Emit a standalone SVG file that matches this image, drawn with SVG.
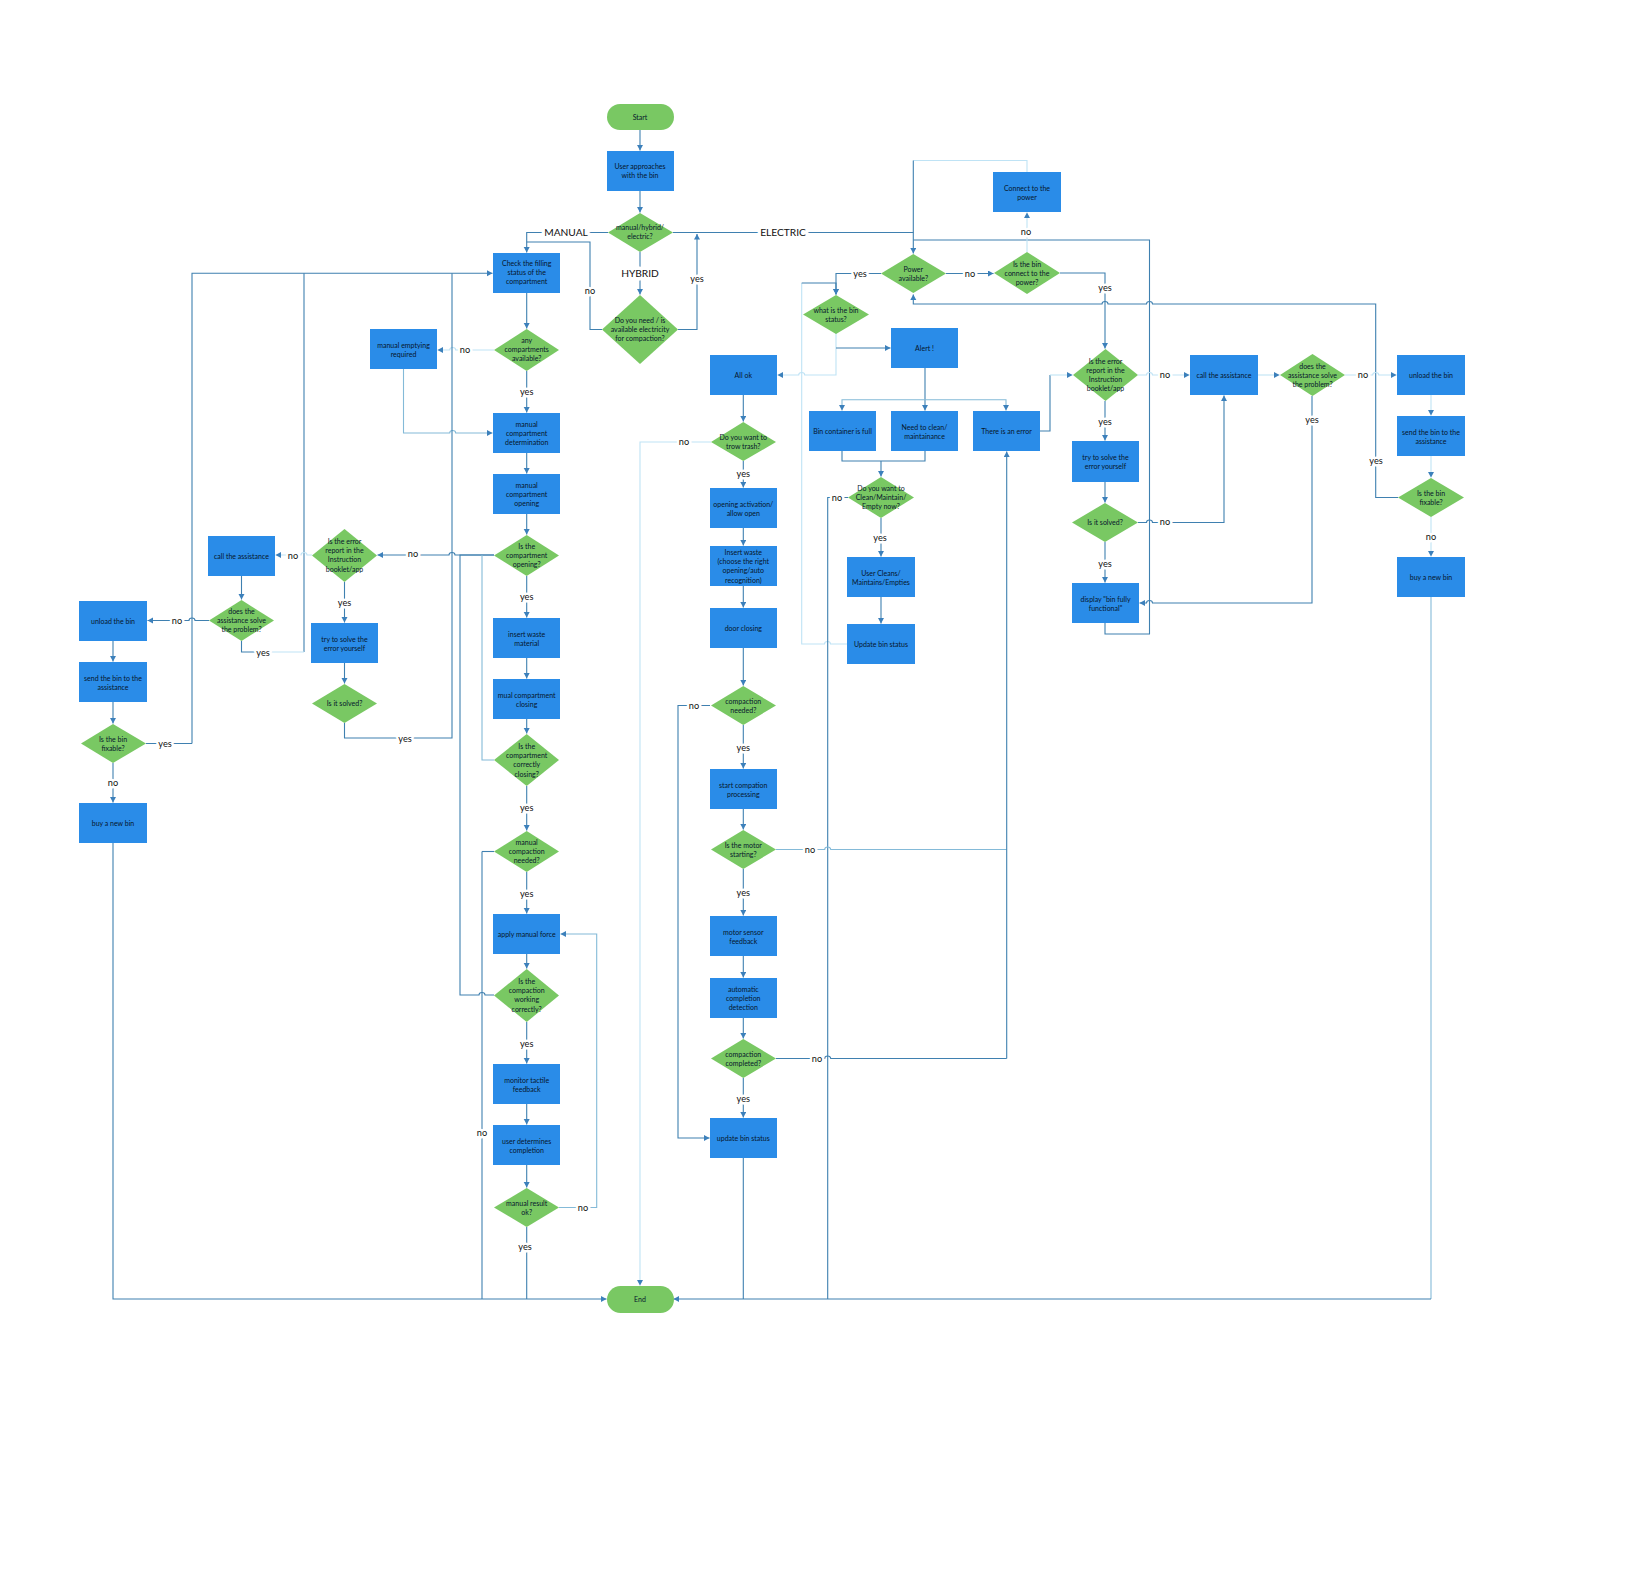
<svg xmlns="http://www.w3.org/2000/svg" width="1645" height="1582" viewBox="0 0 1645 1582">
<style>
.b{fill:#2a8ce8}
.d{fill:#79c863}
.t{font-family:"Lato","Liberation Sans",sans-serif;font-size:7px;fill:#06162c;text-anchor:middle}
.c{fill:none;stroke:#3f80b0;stroke-width:1.1}
.m{fill:none;stroke:#84bad8;stroke-width:1.1}
.l{fill:none;stroke:#bfe3f5;stroke-width:1.1}
.a{marker-end:url(#ah)}
.x{font-family:"Lato","Liberation Sans",sans-serif;font-size:9.2px;fill:#111;text-anchor:middle;paint-order:stroke;stroke:#fff;stroke-width:5px;stroke-linejoin:round}
.y{font-size:10.2px;stroke-width:7px}
</style>
<defs><marker id="ah" markerUnits="userSpaceOnUse" markerWidth="7" markerHeight="7" refX="5.5" refY="3" orient="auto"><path d="M0 0L5.5 3L0 6Z" fill="#3c80bb"/></marker></defs>
<rect width="1645" height="1582" fill="#fff"/>
<g id="connectors">
<path class="c a" d="M640 130V150.500"/>
<path class="c a" d="M640 191V212.500"/>
<path class="c a" d="M608 232.500H526.700V252.500"/>
<path class="c a" d="M640 252V294.500"/>
<path class="c a" d="M678 329.500H697V234"/>
<path class="c" d="M602 329.500H590V242H526.700"/>
<path class="c a" d="M673 232.500H913.300V253.500"/>
<path class="l" d="M1027 172V160.500H913.300"/>
<path class="c" d="M913.300 160.500V232.500"/>
<path class="c" d="M913.300 240H1149.500V634H1105V623"/>
<path class="c a" d="M946 273.500H993.500"/>
<path class="l a" d="M1027 252V212.500"/>
<path class="c a" d="M1060 273H1105V348.500"/>
<path class="c a" d="M1398 497.500H1375.700V304H1152.500a3 2.500 0 0 0 -6 0H1108a3 2.500 0 0 0 -6 0H913.300V294.500"/>
<path class="c a" d="M881 273.500H836V294.500"/>
<path class="l" d="M847 644H830.500a3 2.500 0 0 0 -6 0H801.700V283"/>
<path class="c a" d="M801.700 283H836V294.500"/>
<path class="l a" d="M836 333V375H804.700a3 2.500 0 0 0 -6 0H777.500"/>
<path class="c a" d="M836 348H890.500"/>
<path class="c a" d="M925 368V410.500"/>
<path class="m a" d="M925 399.700H842V410.500"/>
<path class="m a" d="M925 399.700H1006V410.500"/>
<path class="c" d="M842 451V461H925V451"/>
<path class="c a" d="M881 461V476.500"/>
<path class="c a" d="M881 518V556.500"/>
<path class="c a" d="M881 597V623.500"/>
<path class="c" d="M848 497.500H827.700V1299"/>
<path class="c" d="M1040 431H1050V375"/>
<path class="l a" d="M1050 375H1072.500"/>
<path class="c a" d="M1105 401V440.500"/>
<path class="c a" d="M1105 482V502.500"/>
<path class="c a" d="M1105 542V582.500"/>
<path class="l a" d="M1138 375H1146.500a3 2.500 0 0 1 6 0H1189.500"/>
<path class="l a" d="M1258 375H1279.500"/>
<path class="l a" d="M1345 375H1372.700a3 2.500 0 0 1 6 0H1396.500"/>
<path class="c a" d="M1138 522.500H1146.500a3 2.500 0 0 1 6 0H1224V395.500"/>
<path class="c a" d="M1312 396V603H1152.500a3 2.500 0 0 0 -6 0H1139.500"/>
<path class="l a" d="M1431 395V415.500"/>
<path class="l a" d="M1431 456V477.500"/>
<path class="l a" d="M1431 517V556.500"/>
<path class="m" d="M1431 597V1299"/>
<path class="c a" d="M1431 1299H673.500"/>
<path class="c a" d="M113 843V1299H606.500"/>
<path class="c" d="M743.300 1158V1299"/>
<path class="c" d="M526.700 1227V1299"/>
<path class="c" d="M482 851.500V1299"/>
<path class="c" d="M494 851.500H482"/>
<path class="c a" d="M526.700 293V328.500"/>
<path class="c a" d="M526.700 371V412.500"/>
<path class="c a" d="M526.700 453V473.500"/>
<path class="c a" d="M526.700 514V534.500"/>
<path class="c a" d="M526.700 576V617.500"/>
<path class="c a" d="M526.700 658V678.500"/>
<path class="c a" d="M526.700 719V733.500"/>
<path class="c a" d="M526.700 786V830.500"/>
<path class="c a" d="M526.700 872V913.500"/>
<path class="c a" d="M526.700 954V968.500"/>
<path class="c a" d="M526.700 1022V1063.500"/>
<path class="c a" d="M526.700 1104V1124.500"/>
<path class="c a" d="M526.700 1165V1187.500"/>
<path class="l a" d="M494 350H455.700a3 2.500 0 0 0 -6 0H437.500"/>
<path class="m a" d="M403.500 369V433H449.700a3 2.500 0 0 1 6 0H492.500"/>
<path class="c a" d="M494 555H455a3 2.500 0 0 0 -6 0H377.500"/>
<path class="c" d="M494 555H460V995H479a3 2.500 0 0 1 6 0H494"/>
<path class="m" d="M494 760H482V555"/>
<path class="c" d="M344.500 723V738H452V273.300"/>
<path class="c a" d="M192 743.500V273.300H492.500"/>
<path class="c" d="M304 273.300V652"/>
<path class="l" d="M304 652H263"/>
<path class="c" d="M263 652H241.500V641"/>
<path class="c" d="M146 743.500H192"/>
<path class="l a" d="M312 555H307a3 2.500 0 0 0 -6 0H275.500"/>
<path class="c a" d="M344.500 582V622.500"/>
<path class="c a" d="M344.500 663V683.500"/>
<path class="c a" d="M241.500 576V599.500"/>
<path class="c a" d="M209 620.500H195a3 2.500 0 0 0 -6 0H147.500"/>
<path class="c a" d="M113 641V661.500"/>
<path class="c a" d="M113 702V723.500"/>
<path class="c a" d="M113 763V802.500"/>
<path class="m a" d="M559 1207.500H596.700V934H560.500"/>
<path class="c a" d="M743.300 395V421.500"/>
<path class="l a" d="M711 442H640V1285.500"/>
<path class="c a" d="M743.300 461V487.500"/>
<path class="c a" d="M743.300 528V545.500"/>
<path class="c a" d="M743.300 586V607.500"/>
<path class="c a" d="M743.300 648V685.500"/>
<path class="c a" d="M710 705.500H678V1138H709.500"/>
<path class="c a" d="M743.300 725V768.500"/>
<path class="c a" d="M743.300 809V829.500"/>
<path class="c a" d="M743.300 869V915.500"/>
<path class="c a" d="M743.300 956V977.500"/>
<path class="c a" d="M743.300 1018V1038.500"/>
<path class="c a" d="M743.300 1078V1117.500"/>
<path class="m" d="M776 849.500H824.700a3 2.500 0 0 1 6 0H1006.700"/>
<path class="c" d="M776 1058.500H824.700a3 2.500 0 0 1 6 0H1006.700"/>
<path class="c a" d="M1006.700 1058.500V451.500"/>
</g>
<g id="connector-labels">
<text class="x y" x="566" y="235.800">MANUAL</text>
<text class="x y" x="640" y="276.600">HYBRID</text>
<text class="x y" x="783" y="236">ELECTRIC</text>
<text class="x" x="590" y="293.500">no</text>
<text class="x" x="697" y="282">yes</text>
<text class="x" x="860" y="277">yes</text>
<text class="x" x="970" y="276.700">no</text>
<text class="x" x="1026" y="235">no</text>
<text class="x" x="1105" y="291">yes</text>
<text class="x" x="1165" y="378">no</text>
<text class="x" x="1363" y="378">no</text>
<text class="x" x="1105" y="425">yes</text>
<text class="x" x="1165" y="525">no</text>
<text class="x" x="1105" y="567">yes</text>
<text class="x" x="1312" y="423">yes</text>
<text class="x" x="1376" y="464">yes</text>
<text class="x" x="1431" y="540">no</text>
<text class="x" x="837" y="500.500">no</text>
<text class="x" x="880" y="541">yes</text>
<text class="x" x="526.700" y="395">yes</text>
<text class="x" x="465" y="353">no</text>
<text class="x" x="413" y="557">no</text>
<text class="x" x="526.700" y="600">yes</text>
<text class="x" x="526.700" y="811">yes</text>
<text class="x" x="526.700" y="897">yes</text>
<text class="x" x="526.700" y="1047">yes</text>
<text class="x" x="583" y="1211">no</text>
<text class="x" x="525" y="1250">yes</text>
<text class="x" x="482" y="1136">no</text>
<text class="x" x="344.500" y="606">yes</text>
<text class="x" x="405" y="742">yes</text>
<text class="x" x="293" y="559">no</text>
<text class="x" x="177" y="623.500">no</text>
<text class="x" x="263" y="656">yes</text>
<text class="x" x="165" y="747">yes</text>
<text class="x" x="113" y="786">no</text>
<text class="x" x="684" y="445">no</text>
<text class="x" x="743.300" y="477">yes</text>
<text class="x" x="694" y="708.500">no</text>
<text class="x" x="743.300" y="751">yes</text>
<text class="x" x="810" y="852.500">no</text>
<text class="x" x="743.300" y="896">yes</text>
<text class="x" x="817" y="1062">no</text>
<text class="x" x="743.300" y="1102">yes</text>
</g>
<g id="n-start"><rect class="d" x="607" y="104" width="67" height="26" rx="13"/><text class="t" x="640" y="119.500">Start</text></g>
<g id="n-user"><rect class="b" x="607" y="151" width="67" height="40"/><text class="t" x="640" y="169">User approaches<tspan x="640" dy="9.200">with the bin</tspan></text></g>
<g id="n-mode"><polygon class="d" points="640,213 673,232.500 640,252 608,232.500"/><text class="t" x="640" y="229.500">manual/hybrid/<tspan x="640" dy="9.200">electric?</tspan></text></g>
<g id="n-need"><polygon class="d" points="640,295 678,329.500 640,364 602,329.500"/><text class="t" x="640" y="322.500">Do you need / is<tspan x="640" dy="9.200">available electricity</tspan><tspan x="640" dy="9.200">for compaction?</tspan></text></g>
<g id="n-check"><rect class="b" x="493" y="253" width="67" height="40"/><text class="t" x="526.700" y="266">Check the filling<tspan x="526.700" dy="9.200">status of the</tspan><tspan x="526.700" dy="9.200">compartment</tspan></text></g>
<g id="n-any"><polygon class="d" points="526.700,329 559,350 526.700,371 494,350"/><text class="t" x="526.700" y="343">any<tspan x="526.700" dy="9.200">compartments</tspan><tspan x="526.700" dy="9.200">available?</tspan></text></g>
<g id="n-emptying"><rect class="b" x="370" y="329" width="67" height="40"/><text class="t" x="403.500" y="347.500">manual emptying<tspan x="403.500" dy="9.200">required</tspan></text></g>
<g id="n-determ"><rect class="b" x="493" y="413" width="67" height="40"/><text class="t" x="526.700" y="426.500">manual<tspan x="526.700" dy="9.200">compartment</tspan><tspan x="526.700" dy="9.200">determination</tspan></text></g>
<g id="n-opening"><rect class="b" x="493" y="474" width="67" height="40"/><text class="t" x="526.700" y="487.500">manual<tspan x="526.700" dy="9.200">compartment</tspan><tspan x="526.700" dy="9.200">opening</tspan></text></g>
<g id="n-isopen"><polygon class="d" points="526.700,535 559,555.500 526.700,576 494,555.500"/><text class="t" x="526.700" y="549">Is the<tspan x="526.700" dy="9.200">compartment</tspan><tspan x="526.700" dy="9.200">opening?</tspan></text></g>
<g id="n-insert"><rect class="b" x="493" y="618" width="67" height="40"/><text class="t" x="526.700" y="636.500">insert waste<tspan x="526.700" dy="9.200">material</tspan></text></g>
<g id="n-mual"><rect class="b" x="493" y="679" width="67" height="40"/><text class="t" x="526.700" y="697.500">mual compartment<tspan x="526.700" dy="9.200">closing</tspan></text></g>
<g id="n-isclosing"><polygon class="d" points="526.700,734 559,760 526.700,786 494,760"/><text class="t" x="526.700" y="749">Is the<tspan x="526.700" dy="9.200">compartment</tspan><tspan x="526.700" dy="9.200">correctly</tspan><tspan x="526.700" dy="9.200">closing?</tspan></text></g>
<g id="n-mcneeded"><polygon class="d" points="526.700,831 559,851.500 526.700,872 494,851.500"/><text class="t" x="526.700" y="845">manual<tspan x="526.700" dy="9.200">compaction</tspan><tspan x="526.700" dy="9.200">needed?</tspan></text></g>
<g id="n-force"><rect class="b" x="493" y="914" width="67" height="40"/><text class="t" x="526.700" y="936.500">apply manual force</text></g>
<g id="n-working"><polygon class="d" points="526.700,969 559,995.500 526.700,1022 494,995.500"/><text class="t" x="526.700" y="984">Is the<tspan x="526.700" dy="9.200">compaction</tspan><tspan x="526.700" dy="9.200">working</tspan><tspan x="526.700" dy="9.200">correctly?</tspan></text></g>
<g id="n-tactile"><rect class="b" x="493" y="1064" width="67" height="40"/><text class="t" x="526.700" y="1082.500">monitor tactile<tspan x="526.700" dy="9.200">feedback</tspan></text></g>
<g id="n-determines"><rect class="b" x="493" y="1125" width="67" height="40"/><text class="t" x="526.700" y="1143.500">user determines<tspan x="526.700" dy="9.200">completion</tspan></text></g>
<g id="n-result"><polygon class="d" points="526.700,1188 559,1207.500 526.700,1227 494,1207.500"/><text class="t" x="526.700" y="1206">manual result<tspan x="526.700" dy="9.200">ok?</tspan></text></g>
<g id="n-end"><rect class="d" x="607" y="1286" width="67" height="27" rx="13.500"/><text class="t" x="640" y="1302">End</text></g>
<g id="n-allok"><rect class="b" x="710" y="355" width="67" height="40"/><text class="t" x="743.300" y="377.500">All ok</text></g>
<g id="n-trash"><polygon class="d" points="743.300,422 776,442 743.300,461 711,442"/><text class="t" x="743.300" y="439.500">Do you want to<tspan x="743.300" dy="9.200">trow trash?</tspan></text></g>
<g id="n-activation"><rect class="b" x="710" y="488" width="67" height="40"/><text class="t" x="743.300" y="506.500">opening activation/<tspan x="743.300" dy="9.200">allow open</tspan></text></g>
<g id="n-insert2"><rect class="b" x="710" y="546" width="67" height="40"/><text class="t" x="743.300" y="555">Insert waste<tspan x="743.300" dy="9.200">(choose the right</tspan><tspan x="743.300" dy="9.200">opening/auto</tspan><tspan x="743.300" dy="9.200">recognition)</tspan></text></g>
<g id="n-door"><rect class="b" x="710" y="608" width="67" height="40"/><text class="t" x="743.300" y="630.500">door closing</text></g>
<g id="n-needed"><polygon class="d" points="743.300,686 776,705.500 743.300,725 711,705.500"/><text class="t" x="743.300" y="704">compaction<tspan x="743.300" dy="9.200">needed?</tspan></text></g>
<g id="n-startc"><rect class="b" x="710" y="769" width="67" height="40"/><text class="t" x="743.300" y="787.500">start compation<tspan x="743.300" dy="9.200">processing</tspan></text></g>
<g id="n-motor"><polygon class="d" points="743.300,830 776,849.500 743.300,869 711,849.500"/><text class="t" x="743.300" y="848">Is the motor<tspan x="743.300" dy="9.200">starting?</tspan></text></g>
<g id="n-sensor"><rect class="b" x="710" y="916" width="67" height="40"/><text class="t" x="743.300" y="934.500">motor sensor<tspan x="743.300" dy="9.200">feedback</tspan></text></g>
<g id="n-auto"><rect class="b" x="710" y="978" width="67" height="40"/><text class="t" x="743.300" y="991.500">automatic<tspan x="743.300" dy="9.200">completion</tspan><tspan x="743.300" dy="9.200">detection</tspan></text></g>
<g id="n-completed"><polygon class="d" points="743.300,1039 776,1058.500 743.300,1078 711,1058.500"/><text class="t" x="743.300" y="1057">compaction<tspan x="743.300" dy="9.200">completed?</tspan></text></g>
<g id="n-update"><rect class="b" x="710" y="1118" width="67" height="40"/><text class="t" x="743.300" y="1140.500">update bin status</text></g>
<g id="n-status"><polygon class="d" points="836,295 869,314.500 836,334 803,314.500"/><text class="t" x="836" y="312.500">what is the bin<tspan x="836" dy="9.200">status?</tspan></text></g>
<g id="n-power"><polygon class="d" points="913.300,254 946,273.500 913.300,293 881,273.500"/><text class="t" x="913.300" y="271.500">Power<tspan x="913.300" dy="9.200">available?</tspan></text></g>
<g id="n-connected"><polygon class="d" points="1027,252 1060,273 1027,294 994,273"/><text class="t" x="1027" y="266.500">Is the bin<tspan x="1027" dy="9.200">connect to the</tspan><tspan x="1027" dy="9.200">power?</tspan></text></g>
<g id="n-connect"><rect class="b" x="993" y="172" width="68" height="40"/><text class="t" x="1027" y="190.500">Connect to the<tspan x="1027" dy="9.200">power</tspan></text></g>
<g id="n-alert"><rect class="b" x="891" y="328" width="67" height="40"/><text class="t" x="924.500" y="350.500">Alert !</text></g>
<g id="n-full"><rect class="b" x="809" y="411" width="67" height="40"/><text class="t" x="842.500" y="433.500">Bin container is full</text></g>
<g id="n-clean"><rect class="b" x="891" y="411" width="67" height="40"/><text class="t" x="924.500" y="429.500">Need to clean/<tspan x="924.500" dy="9.200">maintainance</tspan></text></g>
<g id="n-error"><rect class="b" x="973" y="411" width="67" height="40"/><text class="t" x="1006.500" y="433.500">There is an error</text></g>
<g id="n-cleannow"><polygon class="d" points="881,477 914,497.500 881,518 848,497.500"/><text class="t" x="881" y="491">Do you want to<tspan x="881" dy="9.200">Clean/Maintain/</tspan><tspan x="881" dy="9.200">Empty now?</tspan></text></g>
<g id="n-cleans"><rect class="b" x="847" y="557" width="68" height="40"/><text class="t" x="881" y="575.500">User Cleans/<tspan x="881" dy="9.200">Maintains/Empties</tspan></text></g>
<g id="n-updatebin"><rect class="b" x="847" y="624" width="68" height="40"/><text class="t" x="881" y="646.500">Update bin status</text></g>
<g id="n-report-r"><polygon class="d" points="1105.500,349 1138,375 1105.500,401 1073,375"/><text class="t" x="1105.500" y="363.500">Is the error<tspan x="1105.500" dy="9.200">report in the</tspan><tspan x="1105.500" dy="9.200">Instruction</tspan><tspan x="1105.500" dy="9.200">booklet/app</tspan></text></g>
<g id="n-try-r"><rect class="b" x="1072" y="441" width="67" height="41"/><text class="t" x="1105.500" y="459.500">try to solve the<tspan x="1105.500" dy="9.200">error yourself</tspan></text></g>
<g id="n-solved-r"><polygon class="d" points="1105,503 1138,522.500 1105,542 1072,522.500"/><text class="t" x="1105" y="525">Is it solved?</text></g>
<g id="n-display"><rect class="b" x="1072" y="583" width="67" height="40"/><text class="t" x="1105.500" y="601.500">display "bin fully<tspan x="1105.500" dy="9.200">functional"</tspan></text></g>
<g id="n-call-r"><rect class="b" x="1190" y="355" width="68" height="40"/><text class="t" x="1224" y="377.500">call the assistance</text></g>
<g id="n-does-r"><polygon class="d" points="1312.500,354 1345,375 1312.500,396 1280,375"/><text class="t" x="1312.500" y="368.500">does the<tspan x="1312.500" dy="9.200">assistance solve</tspan><tspan x="1312.500" dy="9.200">the problem?</tspan></text></g>
<g id="n-unload-r"><rect class="b" x="1397" y="355" width="68" height="40"/><text class="t" x="1431" y="377.500">unload the bin</text></g>
<g id="n-send-r"><rect class="b" x="1397" y="416" width="68" height="40"/><text class="t" x="1431" y="434.500">send the bin to the<tspan x="1431" dy="9.200">assistance</tspan></text></g>
<g id="n-fix-r"><polygon class="d" points="1431,478 1464,497.500 1431,517 1398,497.500"/><text class="t" x="1431" y="495.500">Is the bin<tspan x="1431" dy="9.200">fixable?</tspan></text></g>
<g id="n-buy-r"><rect class="b" x="1397" y="557" width="68" height="40"/><text class="t" x="1431" y="579.500">buy a new bin</text></g>
<g id="n-report-l"><polygon class="d" points="344.500,529 377,555.500 344.500,582 312,555.500"/><text class="t" x="344.500" y="544">Is the error<tspan x="344.500" dy="9.200">report in the</tspan><tspan x="344.500" dy="9.200">Instruction</tspan><tspan x="344.500" dy="9.200">booklet/app</tspan></text></g>
<g id="n-try-l"><rect class="b" x="311" y="623" width="67" height="40"/><text class="t" x="344.500" y="641.500">try to solve the<tspan x="344.500" dy="9.200">error yourself</tspan></text></g>
<g id="n-solved-l"><polygon class="d" points="344.500,684 377,703.500 344.500,723 312,703.500"/><text class="t" x="344.500" y="706">Is it solved?</text></g>
<g id="n-call-l"><rect class="b" x="208" y="536" width="67" height="40"/><text class="t" x="241.500" y="558.500">call the assistance</text></g>
<g id="n-does-l"><polygon class="d" points="241.500,600 274,620.500 241.500,641 209,620.500"/><text class="t" x="241.500" y="614">does the<tspan x="241.500" dy="9.200">assistance solve</tspan><tspan x="241.500" dy="9.200">the problem?</tspan></text></g>
<g id="n-unload-l"><rect class="b" x="79" y="601" width="68" height="40"/><text class="t" x="113" y="623.500">unload the bin</text></g>
<g id="n-send-l"><rect class="b" x="79" y="662" width="68" height="40"/><text class="t" x="113" y="680.500">send the bin to the<tspan x="113" dy="9.200">assistance</tspan></text></g>
<g id="n-fix-l"><polygon class="d" points="113,724 146,743.500 113,763 81,743.500"/><text class="t" x="113" y="741.500">Is the bin<tspan x="113" dy="9.200">fixable?</tspan></text></g>
<g id="n-buy-l"><rect class="b" x="79" y="803" width="68" height="40"/><text class="t" x="113" y="825.500">buy a new bin</text></g>
</svg>
